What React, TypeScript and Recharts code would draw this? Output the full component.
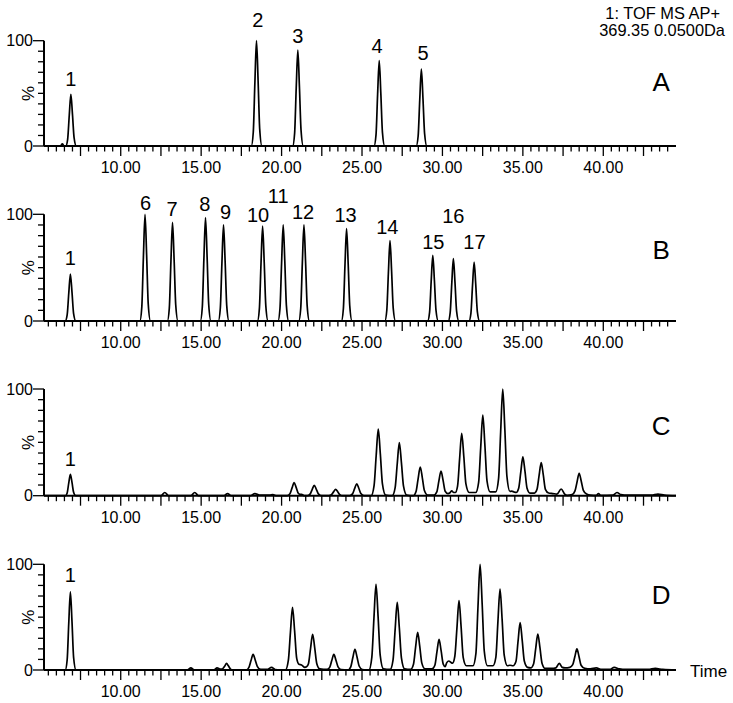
import React from 'react';
import { LineChart, Line, XAxis, YAxis, ReferenceDot } from 'recharts';

// Chromatogram traces: [retention time (min), relative intensity (%)]
const TRACE_A: [number, number][] = [
  [5.23, 0], [6.25, 0], [6.37, 2], [6.48, 0],
  [6.58, 0], [6.7, 6.4], [6.8, 29], [6.9, 49], [7.0, 30], [7.1, 8], [7.24, 0],
  [18.12, 0], [18.24, 13], [18.34, 60], [18.44, 100], [18.54, 62], [18.64, 16], [18.78, 0],
  [20.69, 0], [20.81, 12], [20.91, 55], [21.01, 91], [21.11, 56], [21.21, 15], [21.35, 0],
  [25.75, 0], [25.87, 10.5], [25.97, 49], [26.07, 81], [26.17, 50], [26.27, 13], [26.41, 0],
  [28.37, 0], [28.49, 9.5], [28.59, 44], [28.69, 73], [28.79, 45], [28.89, 12], [29.03, 0],
  [44.52, 0],
];

const TRACE_B: [number, number][] = [
  [5.23, 0],
  [6.55, 0], [6.67, 5.7], [6.77, 26], [6.87, 44], [6.97, 27], [7.07, 7], [7.21, 0],
  [11.19, 0], [11.31, 13], [11.41, 60], [11.51, 100], [11.61, 62], [11.71, 16], [11.85, 0],
  [12.9, 0], [13.02, 12], [13.12, 55.5], [13.22, 92.5], [13.32, 57], [13.42, 15], [13.56, 0],
  [14.95, 0], [15.07, 12.6], [15.17, 58], [15.27, 97], [15.37, 60], [15.47, 15.5], [15.61, 0],
  [16.07, 0], [16.19, 11.7], [16.29, 54], [16.39, 90], [16.49, 56], [16.59, 14.4], [16.73, 0],
  [18.5, 0], [18.62, 11.6], [18.72, 53.4], [18.82, 89], [18.92, 55], [19.02, 14.2], [19.16, 0],
  [19.78, 0], [19.9, 11.7], [20.0, 54], [20.1, 90], [20.2, 56], [20.3, 14.4], [20.44, 0],
  [21.07, 0], [21.19, 11.7], [21.29, 54], [21.39, 90], [21.49, 56], [21.59, 14.4], [21.73, 0],
  [23.72, 0], [23.84, 11.2], [23.94, 52], [24.04, 86.5], [24.14, 53.6], [24.24, 13.8], [24.38, 0],
  [26.42, 0], [26.54, 9.8], [26.64, 45], [26.74, 75.3], [26.84, 46.7], [26.94, 12], [27.08, 0],
  [29.08, 0], [29.2, 8], [29.3, 37], [29.4, 61.6], [29.5, 38.2], [29.6, 9.9], [29.74, 0],
  [30.36, 0], [30.48, 7.6], [30.58, 35], [30.68, 58.4], [30.78, 36.2], [30.88, 9.3], [31.02, 0],
  [31.65, 0], [31.77, 7.2], [31.87, 33.2], [31.97, 55.3], [32.07, 34.3], [32.17, 8.8], [32.31, 0],
  [44.52, 0],
];

const TRACE_C: [number, number][] = [
  [5.23, 0],
  [6.57, 0], [6.67, 2.6], [6.77, 12], [6.87, 20], [6.97, 12.4], [7.07, 3.2], [7.2, 0],
  [12.5, 0], [12.74, 3], [12.98, 0],
  [14.36, 0], [14.6, 3], [14.84, 0],
  [16.4, 0], [16.64, 2], [16.88, 0],
  [18.05, 0], [18.34, 2], [18.63, 0.5], [19.25, 0.5], [19.46, 1], [19.7, 0],
  [20.34, 0], [20.52, 1.8], [20.65, 7.3], [20.78, 12.2], [20.91, 7.6], [21.04, 2.2], [21.14, 1.2],
  [21.24, 1.3], [21.42, 0],
  [21.6, 0], [21.77, 1.5], [21.9, 5.8], [22.03, 9.7], [22.16, 6], [22.29, 1.7], [22.48, 0],
  [22.94, 0], [23.1, 0.9], [23.23, 3.6], [23.36, 6], [23.49, 3.7], [23.62, 1], [23.8, 0],
  [24.24, 0], [24.41, 1.7], [24.54, 6.7], [24.67, 11.2], [24.8, 7], [24.93, 2], [25.12, 0],
  [25.57, 0], [25.75, 9.4], [25.88, 37.5], [26.01, 62.5], [26.14, 39], [26.27, 11], [26.47, 0.5],
  [26.88, 0], [27.06, 7.5], [27.19, 29.8], [27.32, 49.7], [27.45, 31], [27.58, 8.9], [27.78, 0.5],
  [28.18, 0], [28.36, 4], [28.49, 16.1], [28.62, 26.9], [28.75, 16.8], [28.88, 4.8], [29.08, 0.5],
  [29.47, 0.5], [29.65, 3.5], [29.78, 13.9], [29.91, 23.1], [30.04, 14.4], [30.17, 4.2], [30.34, 2],
  [30.47, 2.8], [30.58, 4.5], [30.7, 3],
  [30.8, 3], [30.94, 9], [31.07, 35], [31.2, 58.5], [31.33, 36.5], [31.46, 11], [31.66, 3],
  [32.07, 3], [32.25, 12.5], [32.38, 45.4], [32.51, 75.6], [32.64, 47], [32.77, 14], [32.97, 3.5],
  [33.31, 3.5], [33.49, 16], [33.62, 60], [33.75, 100], [33.88, 62], [34.01, 18], [34.2, 4],
  [34.31, 4.2], [34.45, 3.5],
  [34.58, 3], [34.74, 7], [34.87, 22], [35.0, 36.3], [35.13, 23], [35.26, 7], [35.44, 2.5],
  [35.72, 2.5], [35.88, 6], [36.01, 19], [36.14, 31], [36.27, 19.5], [36.4, 6], [36.6, 2.5],
  [36.86, 2], [37.12, 1.5], [37.38, 6.3], [37.6, 1.5], [37.75, 0.3],
  [38.06, 1], [38.24, 4.5], [38.37, 13], [38.5, 21], [38.63, 13.5], [38.76, 5], [38.96, 1.5],
  [39.2, 0.5], [39.55, 0.3], [39.7, 2], [39.85, 0.3],
  [40.6, 0.5], [40.85, 3], [41.1, 1], [41.5, 0.5],
  [43.0, 0.5], [43.4, 1.5], [43.8, 0.5], [44.52, 0],
];

const TRACE_D: [number, number][] = [
  [5.23, 0],
  [6.55, 0], [6.67, 9.6], [6.77, 44.4], [6.87, 74], [6.97, 46], [7.07, 12], [7.22, 0],
  [14.15, 0], [14.36, 2], [14.58, 0],
  [15.8, 0], [15.99, 2], [16.2, 0.8],
  [16.3, 0.8], [16.47, 3.8], [16.58, 6.3], [16.69, 4], [16.85, 0.5], [17.0, 0],
  [17.8, 0], [17.97, 2.5], [18.1, 9], [18.23, 14.8], [18.36, 9.5], [18.49, 3.5], [18.7, 0.5],
  [19.1, 0.5], [19.38, 2.5], [19.6, 0.5],
  [20.24, 0], [20.42, 9], [20.55, 35.6], [20.68, 59.3], [20.81, 37], [20.94, 11], [21.08, 5.5],
  [21.24, 4.8], [21.45, 2.5],
  [21.55, 3], [21.67, 6], [21.8, 20.3], [21.93, 33.8], [22.06, 21], [22.19, 6], [22.38, 1],
  [22.82, 0.5], [22.99, 2.5], [23.12, 9], [23.25, 14.8], [23.38, 9.3], [23.51, 3], [23.7, 0.3],
  [24.12, 0], [24.3, 3], [24.43, 11.8], [24.56, 19.6], [24.69, 12.3], [24.82, 3.8], [25.02, 0.5],
  [25.43, 0], [25.61, 12], [25.74, 48.6], [25.87, 81], [26.0, 50.5], [26.13, 14], [26.33, 1],
  [26.75, 0.5], [26.93, 9.6], [27.06, 38.4], [27.19, 64], [27.32, 40], [27.45, 11.5], [27.65, 1],
  [28.02, 0.5], [28.2, 5.4], [28.33, 21.4], [28.46, 35.7], [28.59, 22.3], [28.72, 6.5], [28.92, 1],
  [29.35, 1], [29.53, 4.5], [29.66, 17.4], [29.79, 29], [29.92, 18], [30.05, 5.5], [30.17, 3.2],
  [30.27, 7], [30.4, 8.5], [30.5, 7.5],
  [30.63, 6.5], [30.77, 13], [30.9, 39.4], [31.03, 65.6], [31.16, 41], [31.29, 12], [31.49, 4],
  [31.9, 4], [32.08, 15.5], [32.21, 60], [32.34, 100], [32.47, 62.5], [32.6, 18], [32.8, 4],
  [33.14, 4], [33.32, 12], [33.45, 46], [33.58, 76.6], [33.71, 48], [33.84, 14], [34.04, 4],
  [34.2, 4.5],
  [34.39, 4], [34.57, 8], [34.7, 27], [34.83, 44.8], [34.96, 28], [35.09, 8.5], [35.29, 2.5],
  [35.49, 2], [35.67, 6], [35.8, 20.4], [35.93, 34], [36.06, 21.3], [36.19, 6.5], [36.39, 1.5],
  [36.8, 1.5], [37.05, 2], [37.26, 6.3], [37.45, 2.5], [37.62, 2],
  [37.92, 2.5], [38.1, 5], [38.23, 12.5], [38.36, 19.9], [38.49, 12.8], [38.62, 4.5], [38.85, 1.5],
  [39.2, 1], [39.56, 2], [39.9, 0.5],
  [40.4, 0.5], [40.68, 2.5], [41.0, 1], [41.4, 0.5],
  [42.8, 0.5], [43.23, 1.5], [43.7, 0.5], [44.52, 0],
];

// Peak labels: [text, time, intensity position]
const LABELS_A: [string, number, number][] = [
  ['1', 6.89, 63.6], ['2', 18.53, 119.7], ['3', 21.01, 104.5], ['4', 25.93, 95], ['5', 28.79, 88.3],
];
const LABELS_B: [string, number, number][] = [
  ['1', 6.87, 59.7], ['6', 11.54, 110.9], ['7', 13.19, 105.6], ['8', 15.23, 109.7],
  ['9', 16.52, 102.4], ['10', 18.54, 100], ['11', 19.79, 117.2], ['12', 21.34, 102.4],
  ['13', 23.98, 100], ['14', 26.57, 88.4], ['15', 29.43, 74.3], ['16', 30.68, 98.4],
  ['17', 31.99, 74.3],
];
const LABELS_C: [string, number, number][] = [['1', 6.87, 35]];
const LABELS_D: [string, number, number][] = [['1', 6.87, 89.9]];

const X_DOMAIN: [number, number] = [5.23, 44.52];
const X_LABELS = [10, 15, 20, 25, 30, 35, 40];
const X_MAJOR = [7.5, 10, 12.5, 15, 17.5, 20, 22.5, 25, 27.5, 30, 32.5, 35, 37.5, 40, 42.5];
const Y_TICKS = [0, 10, 20, 30, 40, 50, 60, 70, 80, 90, 100];
const Y_LABELS = [0, 100];

// minor ticks every half minute
const X_TICKS: number[] = [];
for (let t = 5.5; t <= 44.0; t += 0.5) X_TICKS.push(t);

const FONT = 'Liberation Sans, Arial, Helvetica, sans-serif';

function XTick(props: any) {
  const { x, y, payload } = props;
  const v = payload.value;
  const major = X_MAJOR.includes(v);
  return (
    <g>
      <line x1={x} x2={x} y1={y} y2={y + (major ? 10 : 5.5)} stroke="#000" strokeWidth={1.3} />
      {X_LABELS.includes(v) && (
        <text x={x} y={y + 27} textAnchor="middle" fontSize={16} fontFamily={FONT} fill="#000">
          {v.toFixed(2)}
        </text>
      )}
    </g>
  );
}

function YTick(props: any) {
  const { x, y, payload } = props;
  const v = payload.value;
  const major = Y_LABELS.includes(v);
  return (
    <g>
      <line x1={x - (major ? 11 : 6)} x2={x} y1={y} y2={y} stroke="#000" strokeWidth={1.3} />
      {major && (
        <text x={x - 11} y={y + 5.7} textAnchor="end" fontSize={16} fontFamily={FONT} fill="#000">
          {v}
        </text>
      )}
      {v === 50 && (
        <text
          transform={`translate(${x - 10.5}, ${y}) rotate(-90)`}
          textAnchor="middle"
          fontSize={17}
          fontFamily={FONT}
          fill="#000"
        >
          %
        </text>
      )}
    </g>
  );
}

interface PanelProps {
  trace: [number, number][];
  labels: [string, number, number][];
  letter: string;
  letterY: number;
  top: number;
  zero: number;
  showTime?: boolean;
}

function Panel({ trace, labels, letter, letterY, top, zero, showTime }: PanelProps) {
  const rows = trace.map(([t, v]) => ({ t, v }));
  return (
    <div style={{ position: 'absolute', left: 0, top: 0 }}>
      <LineChart
        width={733}
        height={703}
        data={rows}
        margin={{ top, right: 57, bottom: 703 - zero - 30, left: 0 }}
      >
        <XAxis
          type="number"
          dataKey="t"
          domain={X_DOMAIN}
          ticks={X_TICKS}
          interval={0}
          tickSize={0}
          tickMargin={0}
          tickLine={false}
          tick={(p: any) => <XTick {...p} />}
          axisLine={{ stroke: '#000', strokeWidth: 2 }}
          height={30}
        />
        <YAxis
          type="number"
          domain={[0, 100]}
          ticks={Y_TICKS}
          interval={0}
          tickSize={0}
          tickMargin={0}
          tickLine={false}
          tick={(p: any) => <YTick {...p} />}
          axisLine={{ stroke: '#000', strokeWidth: 2 }}
          width={44}
        />
        <Line
          type="monotone"
          dataKey="v"
          stroke="#000"
          strokeWidth={1.7}
          dot={false}
          isAnimationActive={false}
        />
        {labels.map(([text, t, v]) => (
          <ReferenceDot
            key={text}
            x={t}
            y={v}
            ifOverflow="visible"
            shape={(p: any) => (
              <text x={p.cx} y={p.cy + 7.2} textAnchor="middle" fontSize={20} fontFamily={FONT} fill="#000">
                {text}
              </text>
            )}
          />
        ))}
        <ReferenceDot
          x={43.6}
          y={letterY}
          ifOverflow="visible"
          shape={(p: any) => (
            <text x={p.cx} y={p.cy + 9.3} textAnchor="middle" fontSize={26} fontFamily={FONT} fill="#000">
              {letter}
            </text>
          )}
        />
        {showTime && (
          <ReferenceDot
            x={44.52}
            y={0}
            ifOverflow="visible"
            shape={(p: any) => (
              <text x={p.cx + 14} y={p.cy + 6.5} textAnchor="start" fontSize={17} fontFamily={FONT} fill="#000">
                Time
              </text>
            )}
          />
        )}
      </LineChart>
    </div>
  );
}

export default function App() {
  return (
    <div style={{ position: 'absolute', left: 0, top: 0, width: 733, height: 703, background: '#fff' }}>
      <Panel trace={TRACE_A} labels={LABELS_A} letter="A" letterY={61} top={40.7} zero={146} />
      <Panel trace={TRACE_B} labels={LABELS_B} letter="B" letterY={67} top={214.3} zero={321} />
      <Panel trace={TRACE_C} labels={LABELS_C} letter="C" letterY={66} top={389} zero={495.7} />
      <Panel trace={TRACE_D} labels={LABELS_D} letter="D" letterY={71} top={564.3} zero={670} showTime />
      <svg width={733} height={60} style={{ position: 'absolute', left: 0, top: 0 }}>
        <text x={720} y={19.2} textAnchor="end" fontSize={16.4} fontFamily={FONT} fill="#000">
          1: TOF MS AP+
        </text>
        <text x={725} y={35.9} textAnchor="end" fontSize={16.4} fontFamily={FONT} fill="#000">
          369.35 0.0500Da
        </text>
      </svg>
    </div>
  );
}
